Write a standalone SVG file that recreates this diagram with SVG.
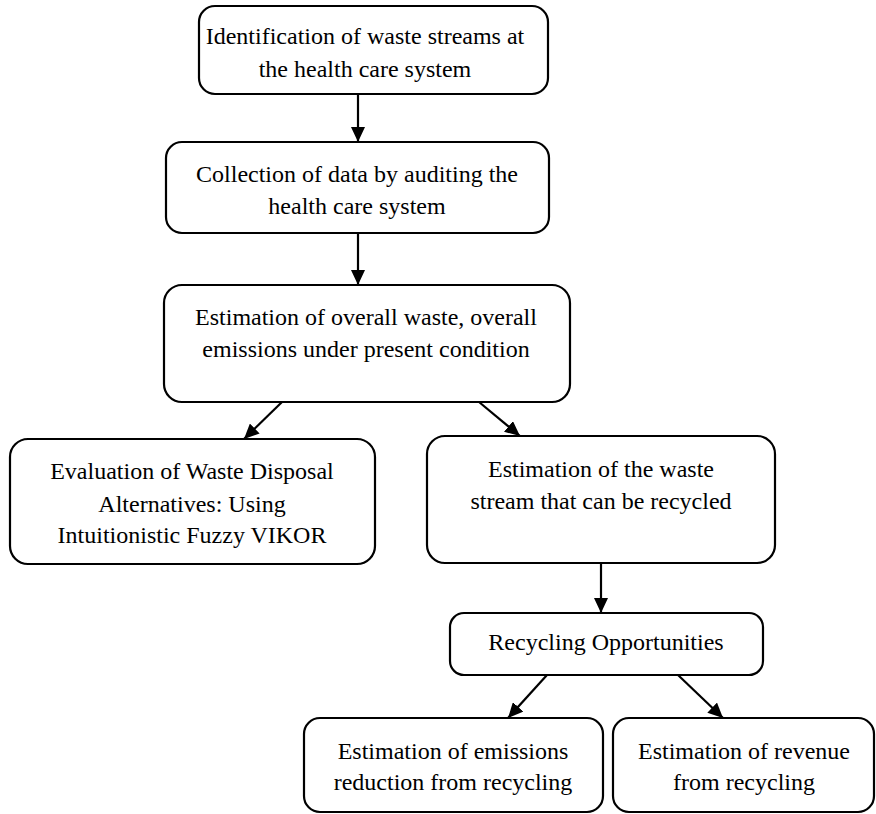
<svg xmlns="http://www.w3.org/2000/svg" width="876" height="814" viewBox="0 0 876 814">
<style>
.box{fill:#fff;stroke:#000;stroke-width:2.2}
.t{font-family:"Liberation Serif","Times New Roman",serif;font-size:24px;fill:#000;text-anchor:middle}
.c{stroke:#000;stroke-width:2.2;fill:none;marker-end:url(#ah)}
</style>
<defs>
<marker id="ah" markerUnits="userSpaceOnUse" markerWidth="16" markerHeight="14" refX="15" refY="7" orient="auto">
<path d="M0,0 L15,7 L0,14 Z" fill="#000"/>
</marker>
</defs>
<rect width="876" height="814" fill="#fff"/>
<g id="n1"><rect class="box" x="199" y="6" width="349" height="88" rx="16"/>
<text class="t" x="365" y="44">Identification of waste streams at</text>
<text class="t" x="365" y="77">the health care system</text></g>
<g id="n2"><rect class="box" x="166" y="142" width="383" height="91" rx="16"/>
<text class="t" x="357" y="182">Collection of data by auditing the</text>
<text class="t" x="357" y="214">health care system</text></g>
<g id="n3"><rect class="box" x="164" y="285" width="406" height="117" rx="18"/>
<text class="t" x="366" y="325">Estimation of overall waste, overall</text>
<text class="t" x="366" y="357">emissions under present condition</text></g>
<g id="n4"><rect class="box" x="10" y="439" width="365" height="125" rx="18"/>
<text class="t" x="192" y="479">Evaluation of Waste Disposal</text>
<text class="t" x="192" y="512">Alternatives: Using</text>
<text class="t" x="192" y="543">Intuitionistic Fuzzy VIKOR</text></g>
<g id="n5"><rect class="box" x="427" y="436" width="348" height="127" rx="18"/>
<text class="t" x="601" y="477">Estimation of the waste</text>
<text class="t" x="601" y="509">stream that can be recycled</text></g>
<g id="n6"><rect class="box" x="450" y="613" width="313" height="62" rx="14"/>
<text class="t" x="606" y="650">Recycling Opportunities</text></g>
<g id="n7"><rect class="box" x="304" y="718" width="299" height="94" rx="16"/>
<text class="t" x="453" y="759">Estimation of emissions</text>
<text class="t" x="453" y="790">reduction from recycling</text></g>
<g id="n8"><rect class="box" x="613" y="718" width="261" height="94" rx="16"/>
<text class="t" x="744" y="759">Estimation of revenue</text>
<text class="t" x="744" y="790">from recycling</text></g>
<g id="connectors">
<line class="c" x1="358" y1="94" x2="358" y2="142"/>
<line class="c" x1="358" y1="233" x2="358" y2="285"/>
<line class="c" x1="282" y1="402" x2="244" y2="439"/>
<line class="c" x1="479" y1="402" x2="520" y2="436"/>
<line class="c" x1="601" y1="563" x2="601" y2="613"/>
<line class="c" x1="547" y1="675" x2="508" y2="718"/>
<line class="c" x1="678" y1="675" x2="723" y2="718"/>
</g>
</svg>
